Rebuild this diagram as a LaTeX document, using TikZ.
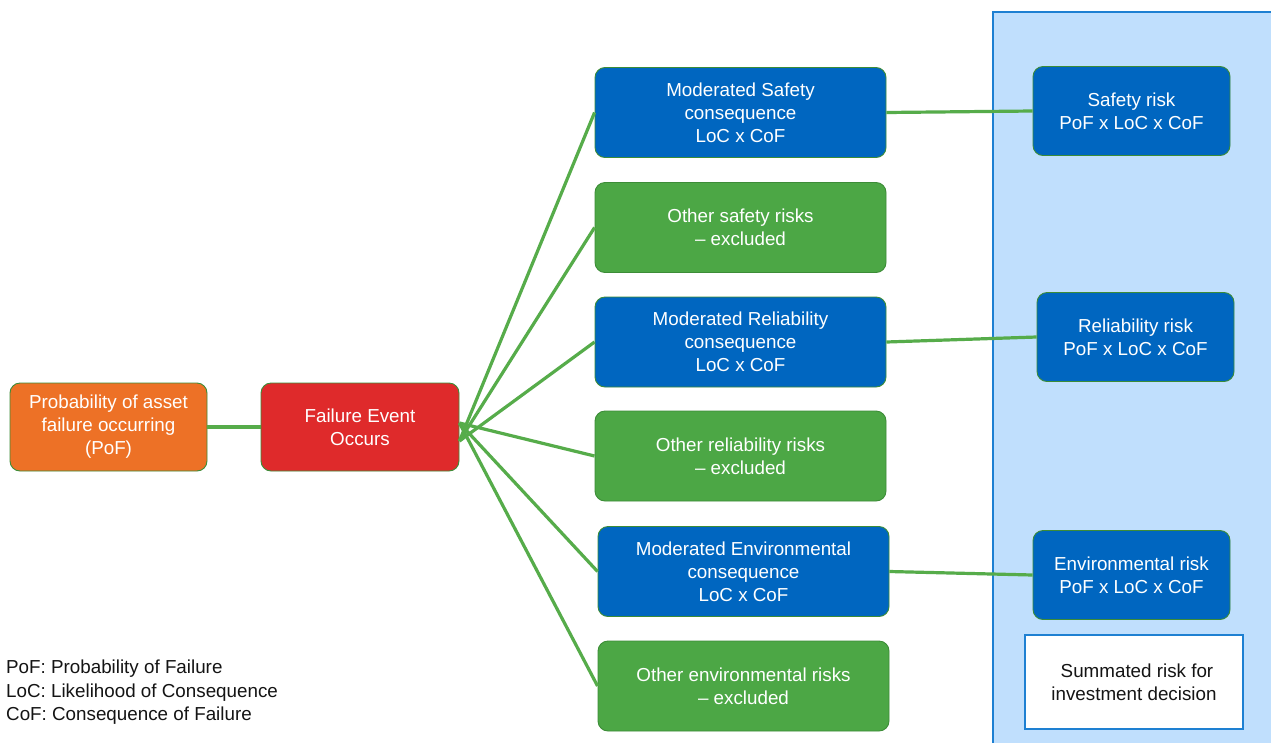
\documentclass[tikz,border=0pt]{standalone}
\usepackage{fontspec}
\setmainfont{Liberation Sans}
\definecolor{gfill}{RGB}{76,167,69}
\definecolor{gline}{RGB}{86,172,74}
\definecolor{gedge}{RGB}{60,140,55}
\definecolor{bfill}{RGB}{0,102,192}
\definecolor{ofill}{RGB}{237,113,38}
\definecolor{rfill}{RGB}{223,42,43}
\definecolor{panel}{RGB}{192,223,253}
\definecolor{pedge}{RGB}{30,128,210}
\definecolor{txt}{RGB}{20,20,20}
\tikzset{
  box/.style={rounded corners=10pt, draw=gedge, line width=0.9pt, text=white, align=center,
    inner sep=0pt, font=\fontsize{18.8}{23}\selectfont},
  greenbox/.style={box, fill=gfill, minimum width=291pt, minimum height=90pt},
  bluebox/.style={box, fill=bfill, minimum width=291pt, minimum height=90pt},
  riskbox/.style={box, fill=bfill, minimum width=197pt, minimum height=89pt},
  conn/.style={gline, line width=3.2pt}
}
\begin{document}
\begin{tikzpicture}[x=1pt,y=-1pt]
\clip (0,0) rectangle (1271,742);
\fill[white] (0,0) rectangle (1271,742);
% panel
\draw[fill=panel, draw=pedge, line width=1.5pt] (993,12) rectangle (1290,760);

\node[box, fill=ofill, minimum width=197pt, minimum height=88pt] (pof) at (108.5,427) {Probability of asset\\failure occurring\\(PoF)};
\node[box, fill=rfill, minimum width=198pt, minimum height=88pt] (fe) at (360,427) {Failure Event\\Occurs};

\node[bluebox] (ms) at (740.5,112.5) {Moderated Safety\\consequence\\LoC x CoF};
\node[greenbox] (os) at (740.5,227.5) {Other safety risks\\– excluded};
\node[bluebox] (mr) at (740.5,342) {Moderated Reliability\\consequence\\LoC x CoF};
\node[greenbox] (or) at (740.5,456) {Other reliability risks\\– excluded};
\node[bluebox] (me) at (743.5,571.5) {Moderated Environmental\\consequence\\LoC x CoF};
\node[greenbox] (oe) at (743.5,686) {Other environmental risks\\– excluded};

\node[riskbox] (sr) at (1131.5,111) {Safety risk\\PoF x LoC x CoF};
\node[riskbox] (rr) at (1135.5,337) {Reliability risk\\PoF x LoC x CoF};
\node[riskbox] (er) at (1131.5,575) {Environmental risk\\PoF x LoC x CoF};

\node[draw=pedge, line width=1.5pt, fill=white, minimum width=218pt, minimum height=94pt,
  align=center, inner sep=0pt, text=txt, font=\fontsize{18.8}{23}\selectfont] (sum) at (1134,682)
  {\hspace*{6pt}Summated risk for\\investment decision};

\node[anchor=north west, align=left, inner sep=0pt, text=txt,
  font=\fontsize{18.8}{23.5}\selectfont] (leg) at (6,660)
  {PoF: Probability of Failure\\LoC: Likelihood of Consequence\\CoF: Consequence of Failure};

% connectors
\draw[conn] (pof.east) -- (fe.west);
\coordinate (fu) at ([yshift=-14pt]fe.east);
\coordinate (fd) at ([yshift=4pt]fe.east);
\draw[conn] (fu) -- (ms.west);
\draw[conn] (fu) -- (os.west);
\draw[conn] (fu) -- (mr.west);
\draw[conn] (fd) -- (or.west);
\draw[conn] (fd) -- (me.west);
\draw[conn] (fd) -- (oe.west);
\draw[conn] (ms.east) -- (sr.west);
\draw[conn] (mr.east) -- (rr.west);
\draw[conn] (me.east) -- (er.west);
\end{tikzpicture}
\end{document}
